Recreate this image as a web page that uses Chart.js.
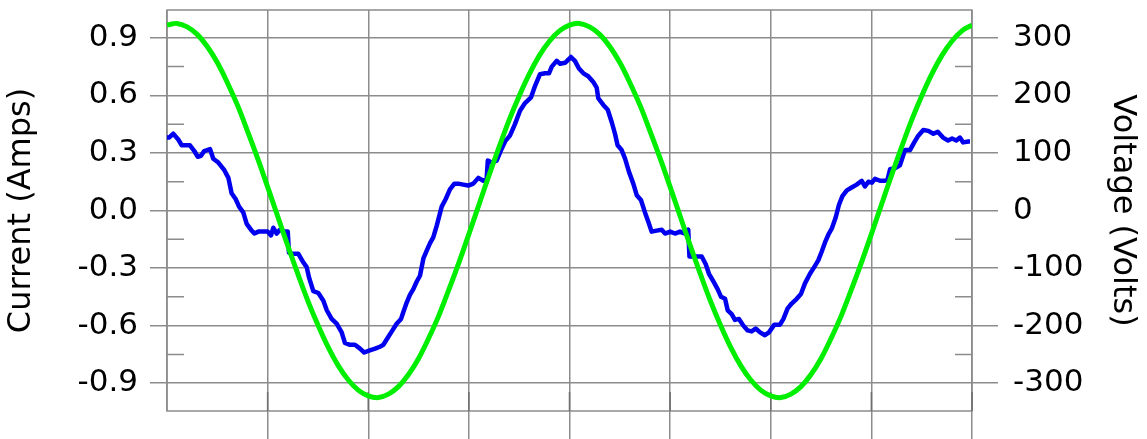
<!DOCTYPE html>
<html>
<head>
<meta charset="utf-8">
<script src="https://cdn.jsdelivr.net/npm/chart.js"></script>
<style>
  html, body { margin: 0; padding: 0; background: #fff; }
  #wrap { width: 1147px; height: 439px; position: relative; }
</style>
</head>
<body>
<div id="wrap"><canvas id="waves"></canvas></div>
<script>
// Напряжение (В), отсчёты каждые 0.5 мс
const voltageTime = [0,0.5,1,1.5,2,2.5,3,3.5,4,4.5,5,5.5,6,6.5,7,7.5,8,8.5,9,9.5,
	10,10.5,11,11.5,12,12.5,13,13.5,14,14.5,15,15.5,16,16.5,17,17.5,18,18.5,19,19.5,
	20,20.5,21,21.5,22,22.5,23,23.5,24,24.5,25,25.5,26,26.5,27,27.5,28,28.5,29,29.5,
	30,30.5,31,31.5,32,32.5,33,33.5,34,34.5,35,35.5,36,36.5,37,37.5,38,38.5,39,39.5,40]
const voltage = [322,325,319,306,285,257,222,183,138,91,41,-10,-61,-110,-157,-199,-237,-269,-294,-312,
	-322,-325,-319,-306,-285,-257,-222,-183,-138,-91,-41,10,61,110,157,199,237,269,294,312,
	322,325,319,306,285,257,222,183,138,91,41,-10,-61,-110,-157,-199,-237,-269,-294,-312,
	-322,-325,-319,-306,-285,-257,-222,-183,-138,-91,-41,10,61,110,157,199,237,269,294,312,322]

// Ток (А)
const currentTime = [0,0.10,0.31,0.56,0.73,0.98,1.14,1.36,1.53,1.69,
	1.85,2.14,2.30,2.55,2.85,3.05,3.21,3.41,3.58,3.79,
	3.96,4.17,4.34,4.54,4.79,5.00,5.17,5.28,5.45,5.61,
	5.86,6.00,6.06,6.20,6.52,6.77,6.94,7.06,7.27,7.52,
	7.77,7.94,8.18,8.43,8.68,8.84,9.09,9.34,9.59,9.80,
	10.04,10.34,10.58,10.75,10.93,11.17,11.41,11.63,11.74,11.91,
	12.07,12.24,12.41,12.57,12.74,12.90,13.07,13.23,13.40,13.65,
	13.85,14.06,14.28,14.47,14.72,14.97,15.22,15.47,15.72,15.88,
	15.94,16.13,16.38,16.60,16.80,17.04,17.29,17.54,17.79,18.09,
	18.29,18.53,18.78,18.98,19.12,19.36,19.53,19.78,19.98,20.07,
	20.27,20.47,20.69,20.93,21.18,21.35,21.43,21.68,21.90,22.10,
	22.26,22.39,22.59,22.76,22.96,23.17,23.34,23.55,23.75,23.92,
	24.08,24.33,24.58,24.75,25.00,25.24,25.49,25.74,25.90,25.96,
	26.32,26.57,26.77,26.93,27.15,27.36,27.53,27.73,27.86,28.06,
	28.22,28.42,28.64,28.85,29.05,29.25,29.47,29.71,29.91,30.18,
	30.46,30.63,30.84,31.04,31.29,31.50,31.70,31.95,32.16,32.36,
	32.53,32.70,32.89,33.03,33.23,33.39,33.56,33.78,34.02,34.27,
	34.52,34.68,34.85,35.02,35.18,35.43,35.68,35.80,35.93,36.17,
	36.42,36.67,36.92,37.13,37.33,37.58,37.83,38.08,38.30,38.56,
	38.81,39.01,39.22,39.40,39.56,39.82,39.90]
const current = [0.38,0.38,0.40,0.37,0.34,0.34,0.34,0.31,0.28,0.285,
	0.31,0.32,0.27,0.25,0.21,0.17,0.09,0.06,0.02,-0.01,
	-0.07,-0.10,-0.12,-0.11,-0.11,-0.11,-0.13,-0.09,-0.12,-0.10,
	-0.11,-0.11,-0.22,-0.225,-0.225,-0.27,-0.295,-0.35,-0.42,-0.43,
	-0.47,-0.52,-0.565,-0.59,-0.635,-0.69,-0.70,-0.70,-0.72,-0.74,
	-0.73,-0.72,-0.71,-0.70,-0.67,-0.63,-0.59,-0.565,-0.53,-0.48,
	-0.44,-0.41,-0.37,-0.34,-0.25,-0.21,-0.17,-0.14,-0.08,0.02,
	0.06,0.11,0.14,0.14,0.135,0.13,0.14,0.17,0.155,0.16,
	0.26,0.25,0.26,0.315,0.36,0.39,0.45,0.52,0.56,0.59,
	0.65,0.71,0.715,0.715,0.75,0.78,0.765,0.77,0.79,0.80,
	0.78,0.74,0.715,0.70,0.67,0.64,0.585,0.55,0.525,0.46,
	0.40,0.34,0.315,0.27,0.20,0.14,0.08,0.055,-0.01,-0.06,
	-0.11,-0.105,-0.10,-0.12,-0.11,-0.12,-0.11,-0.12,-0.10,-0.24,
	-0.24,-0.24,-0.28,-0.33,-0.37,-0.41,-0.45,-0.46,-0.52,-0.54,
	-0.57,-0.565,-0.60,-0.625,-0.63,-0.615,-0.635,-0.65,-0.635,-0.595,
	-0.595,-0.565,-0.51,-0.485,-0.46,-0.435,-0.38,-0.33,-0.295,-0.26,
	-0.215,-0.165,-0.12,-0.095,-0.035,0.03,0.075,0.105,0.12,0.135,
	0.155,0.125,0.15,0.145,0.165,0.155,0.155,0.16,0.215,0.22,
	0.235,0.315,0.315,0.355,0.39,0.42,0.415,0.40,0.41,0.38,
	0.365,0.375,0.365,0.38,0.355,0.36,0.36]

// Деления осей
const timeTicks = [0,5,10,15,20,25,30,35,40]
const currentTicks = [-0.9,-0.6,-0.3,0,0.3,0.6,0.9]
const currentMinor = [-0.75,-0.45,-0.15,0.15,0.45,0.75]
const voltageTicks = [-300,-200,-100,0,100,200,300]
const voltageMinor = [-250,-150,-50,50,150,250]

const gridGray = '#8c8c8c'
const labelFont = {family: "'DejaVu Sans', sans-serif", size: 31}
const titleFont = {family: "'DejaVu Sans', sans-serif", size: 32}

// рамка и короткие внутренние засечки
const frameAndMinor = {
	id: 'frameAndMinor',
	beforeDatasetsDraw(chart){
		const {ctx, chartArea: a, scales} = chart
		ctx.save()
		ctx.strokeStyle = gridGray
		ctx.lineWidth = 1.5
		ctx.strokeRect(a.left, a.top, a.right - a.left, a.bottom - a.top)
		ctx.beginPath()
		currentMinor.forEach(v => {
			const y = scales.y.getPixelForValue(v)
			ctx.moveTo(a.left, y)
			ctx.lineTo(a.left + 17, y)
		})
		voltageMinor.forEach(v => {
			const y = scales.y2.getPixelForValue(v)
			ctx.moveTo(a.right - 17, y)
			ctx.lineTo(a.right, y)
		})
		ctx.stroke()
		ctx.strokeStyle = '#6e6e6e'
		ctx.beginPath()
		timeTicks.slice(1).forEach(v => {
			const x = scales.x.getPixelForValue(v)
			ctx.moveTo(x, a.bottom - 19)
			ctx.lineTo(x, a.bottom)
		})
		ctx.stroke()
		ctx.restore()
	}
}

function fixWidth(w){
	return s => {
		s.width = w
		s.paddingTop = 0
		s.paddingBottom = 0
	}
}

const voltagePoints = voltageTime.map((t, i) => ({x: t, y: voltage[i]}))
const currentPoints = currentTime.map((t, i) => ({x: t, y: current[i]}))

const config = {
	type: 'line',
	data: {
		datasets: [{
			label: 'Voltage',
			data: voltagePoints,
			yAxisID: 'y2',
			borderColor: '#00ee00',
			borderWidth: 5,
			tension: 0.4,
			pointRadius: 0,
			order: 0
		}, {
			label: 'Current',
			data: currentPoints,
			yAxisID: 'y',
			borderColor: '#0000ee',
			borderWidth: 4.5,
			tension: 0,
			borderJoinStyle: 'round',
			pointRadius: 0,
			order: 1
		}]
	},
	options: {
		responsive: true,
		maintainAspectRatio: false,
		animation: false,
		layout: {padding: {top: 10, left: 0, right: 0, bottom: 0}},
		plugins: {
			legend: {display: false},
			tooltip: {enabled: false}
		},
		scales: {
			x: {
				type: 'linear',
				min: 0,
				max: 40,
				afterBuildTicks: s => { s.ticks = timeTicks.map(v => ({value: v})) },
				afterFit: s => { s.height = 28; s.paddingLeft = 0; s.paddingRight = 0 },
				ticks: {display: false},
				border: {display: false},
				grid: {
					color: gridGray,
					lineWidth: 1.5,
					tickLength: 28,
					tickColor: c => c.tick && c.tick.value === 0 ? 'rgba(0,0,0,0)' : gridGray
				}
			},
			y: {
				position: 'left',
				min: -1.045,
				max: 1.045,
				afterBuildTicks: s => { s.ticks = currentTicks.map(v => ({value: v})) },
				afterFit: fixWidth(167),
				ticks: {
					font: labelFont,
					color: '#000',
					padding: 12,
					callback: v => v.toFixed(1)
				},
				border: {display: false},
				grid: {color: gridGray, lineWidth: 1.5, tickLength: 17},
				title: {
					display: true,
					text: 'Current (Amps)',
					font: titleFont,
					color: '#000',
					padding: {top: 2, bottom: 0}
				}
			},
			y2: {
				position: 'right',
				min: -348.3,
				max: 348.3,
				afterBuildTicks: s => { s.ticks = voltageTicks.map(v => ({value: v})) },
				afterFit: fixWidth(175),
				ticks: {
					font: labelFont,
					color: '#000',
					padding: 15,
					callback: v => String(v)
				},
				border: {display: false},
				grid: {drawOnChartArea: false, color: gridGray, lineWidth: 1.5, tickLength: 26},
				title: {
					display: true,
					text: 'Voltage (Volts)',
					font: titleFont,
					color: '#000',
					padding: {top: 5, bottom: 0}
				}
			}
		}
	},
	plugins: [frameAndMinor]
}

const waves = new Chart(document.getElementById('waves').getContext('2d'), config)
</script>
</body>
</html>
